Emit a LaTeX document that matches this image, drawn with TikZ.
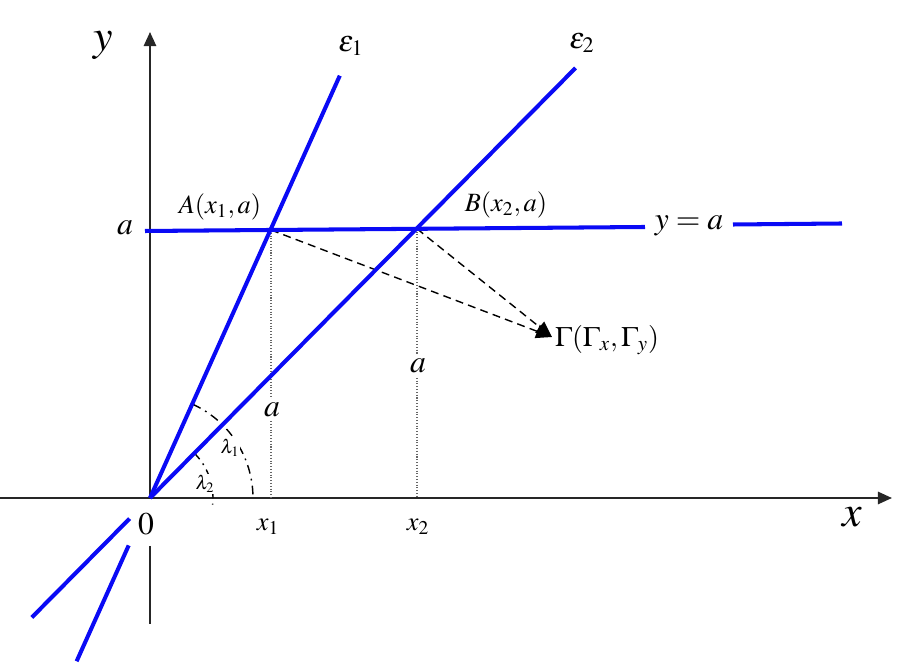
\documentclass[tikz,border=0pt]{standalone}
\usepackage{mathptmx}
\usetikzlibrary{arrows.meta}
\definecolor{lineblue}{RGB}{10,10,245}
\begin{document}
\begin{tikzpicture}[x=0.02cm,y=0.02cm,
  blueline/.style={draw=lineblue,line width=2.3pt},
  axisln/.style={draw=black!85,line width=1.1pt},
  axisarrow/.style={axisln,-{Triangle[length=8pt,width=7pt]}},
  dashln/.style={draw=black,line width=0.8pt,dash pattern=on 4.5pt off 3pt},
  dotln/.style={draw=black!60,line width=0.8pt,dash pattern=on 0.6pt off 1pt},
  arcln/.style={draw=black,line width=0.8pt,dash pattern=on 5pt off 3pt on 1pt off 3pt},
  lbl/.style={inner sep=1pt,font=\fontsize{15}{17}\selectfont},
  biglbl/.style={inner sep=1pt,font=\fontsize{25}{28}\selectfont},
  midlbl/.style={inner sep=1pt,font=\fontsize{18}{20}\selectfont},
  smalllbl/.style={inner sep=0.5pt,fill=white,font=\fontsize{11}{13}\selectfont}]
\useasboundingbox (-150,-174) rectangle (771,498);
% coordinates
\coordinate (O) at (0,0);
\coordinate (yend) at (0,466);
\coordinate (ylow1) at (0,-48);
\coordinate (ylow2) at (0,-126);
\coordinate (xstart) at (-150,0);
\coordinate (xend) at (742,0);
\coordinate (E1) at (65.8:463);
\coordinate (E1a) at (245.8:52);
\coordinate (E1b) at (245.8:179);
\coordinate (E2) at (45.3:605);
\coordinate (E2a) at (225.3:29);
\coordinate (E2b) at (225.3:168);
\coordinate (H1) at (-5,267);
\coordinate (H2) at (495,271);
\coordinate (H3) at (583,273.5);
\coordinate (H4) at (692,274.5);
\coordinate (A) at (121,268);
\coordinate (B) at (267,269.2);
\coordinate (A0) at (121,0);
\coordinate (B0) at (267,0);
\coordinate (G) at (402,161);
% axes
\draw[axisarrow] (O) -- (yend);
\draw[axisln] (ylow1) -- (ylow2);
\draw[axisarrow] (xstart) -- (xend);
% dotted verticals
\draw[dotln] (A) -- (A0);
\draw[dotln] (B) -- (B0);
% dashed lines to Gamma
\draw[dashln,-{Triangle[length=9pt,width=8pt]}] (A) -- (G);
\draw[dashln,-{Triangle[length=9pt,width=8pt]}] (B) -- (G);
% arcs
\draw[arcln] (65.5:103) arc[start angle=65.5,end angle=1,radius=2.06cm];
\draw[arcln] (46:63) arc[start angle=46,end angle=-6,radius=1.26cm];
% angle labels
\node[smalllbl] (l1lab) at (80,50) {$\lambda_1$};
\node[smalllbl] (l2lab) at (55,14) {$\lambda_2$};
% blue lines
\draw[blueline] (O) -- (E1);
\draw[blueline] (E1a) -- (E1b);
\draw[blueline] (O) -- (E2);
\draw[blueline] (E2a) -- (E2b);
\draw[blueline] (H1) -- (H2);
\draw[blueline] (H3) -- (H4);
% labels
\node[biglbl] (ylab) at (-47,453) {$y$};
\node[biglbl] (xlab) at (702,-19) {$x$};
\node[lbl,font=\fontsize{17}{19}\selectfont] (e1lab) at (201,452) {$\varepsilon_1$};
\node[lbl,font=\fontsize{17}{19}\selectfont] (e2lab) at (432,455) {$\varepsilon_2$};
\node[midlbl] (alab) at (-25,270) {$a$};
\node[lbl] (Alab) at (70,291) {$A(x_1,a)$};
\node[lbl] (Blab) at (356,293) {$B(x_2,a)$};
\node[midlbl,fill=white] (yalab) at (539,272) {$y=a$};
\node[midlbl,fill=white,inner sep=2pt] (a1lab) at (122,88) {$a$};
\node[midlbl,fill=white,inner sep=2pt] (a2lab) at (268,132) {$a$};
\node[lbl,anchor=west,font=\fontsize{16}{18}\selectfont] (Glab) at (403,158) {$\Gamma(\Gamma_x,\Gamma_y)$};
\node[midlbl] (zlab) at (-4,-26) {$0$};
\node[lbl] (x1lab) at (118,-29) {$x_1$};
\node[lbl] (x2lab) at (268,-29) {$x_2$};
\end{tikzpicture}
\end{document}
